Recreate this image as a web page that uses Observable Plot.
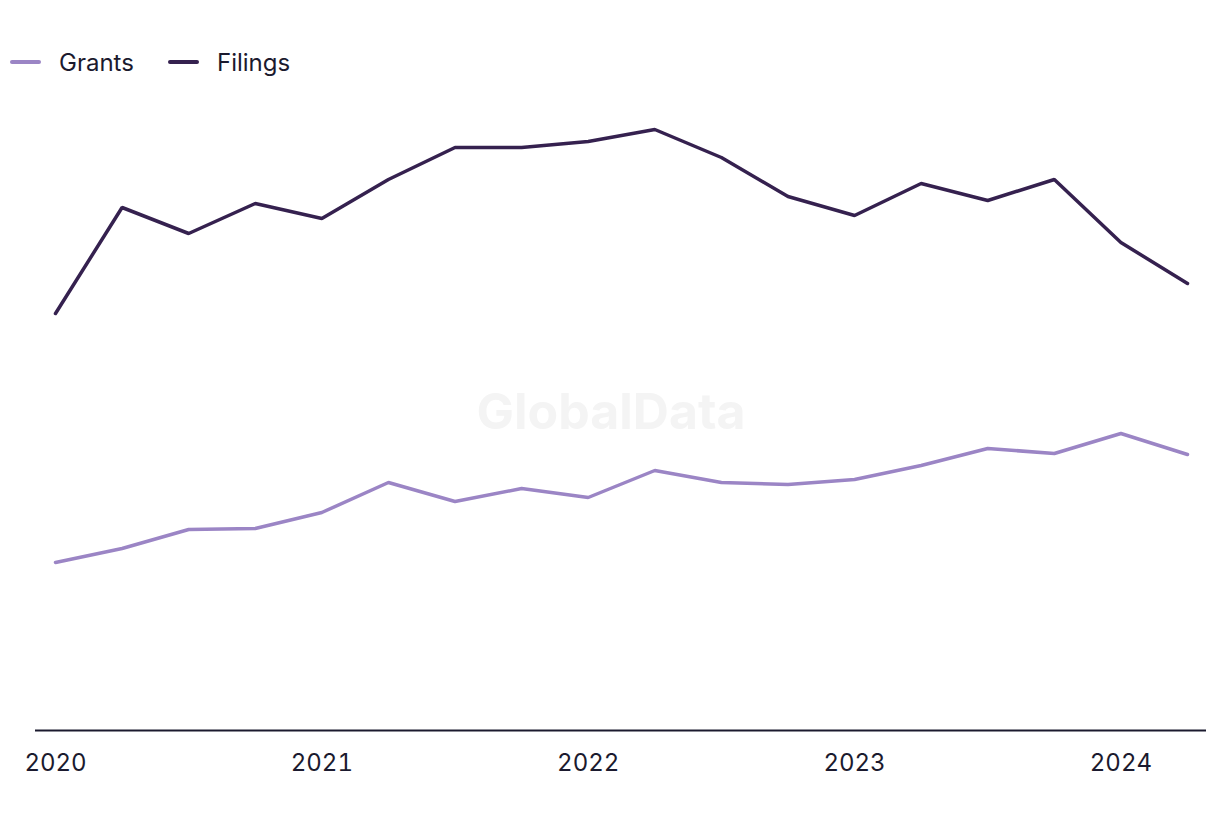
<!DOCTYPE html>
<html>
<head>
<meta charset="utf-8">
<script src="https://cdn.jsdelivr.net/npm/d3@7"></script>
<script src="https://cdn.jsdelivr.net/npm/@observablehq/plot@0.6"></script>
<style>
  html, body { margin: 0; padding: 0; background: #ffffff; }
  body { width: 1220px; height: 820px; overflow: hidden; font-family: Inter, "Noto Sans", sans-serif; color: #1b1a2e; }
  #legend { height: 90px; position: relative; font-size: 24px; }
  .item { position: absolute; top: 47px; display: flex; align-items: center; height: 30px; }
  .sw { width: 31px; height: 3.5px; border-radius: 2px; margin-right: 18px; }
  #chart svg { display: block; }
</style>
</head>
<body>
<div id="legend"></div>
<div id="chart"></div>
<script>
const periods = ["2020-Q1","2020-Q2","2020-Q3","2020-Q4","2021-Q1","2021-Q2","2021-Q3","2021-Q4","2022-Q1","2022-Q2","2022-Q3","2022-Q4","2023-Q1","2023-Q2","2023-Q3","2023-Q4","2024-Q1","2024-Q2"];
const grants  = [168, 182, 201, 202, 218, 248, 229, 242, 233, 260, 248, 246, 251, 265, 282, 277, 297, 276];
const filings = [417, 523, 497, 527, 512, 551, 583, 583, 589, 601, 573, 534, 515, 547, 530, 551, 488, 447];
const yearTicks = [2020, 2021, 2022, 2023, 2024];
const seriesNames = ["Grants", "Filings"];
const seriesColors = ["#9b85c5", "#35214f"];

const toYear = p => +p.slice(0, 4) + (+p.slice(6) - 1) / 4;
const rows = [];
periods.forEach((p, i) => {
  rows.push({t: toYear(p), series: "Grants", value: grants[i]});
  rows.push({t: toYear(p), series: "Filings", value: filings[i]});
});

// legend
const legend = document.getElementById("legend");
const lefts = [10, 168];
seriesNames.forEach((s, i) => {
  const d = document.createElement("div");
  d.className = "item";
  d.style.left = lefts[i] + "px";
  d.innerHTML = `<span class="sw" style="background:${seriesColors[i]}"></span><span>${s}</span>`;
  legend.appendChild(d);
});

const chart = Plot.plot({
  width: 1220,
  height: 730,
  marginTop: 10,
  marginBottom: 90,
  marginLeft: 35,
  marginRight: 14,
  insetLeft: 20,
  insetRight: 19,
  style: {fontFamily: "Inter, 'Noto Sans', sans-serif", fontSize: "24px", color: "#1b1a2e", background: "#ffffff"},
  x: {domain: [2020, 2024.25], label: null},
  y: {domain: [0, 630], axis: null},
  color: {domain: seriesNames, range: seriesColors},
  marks: [
    Plot.text(["GlobalData"], {frameAnchor: "middle", dx: -10, dy: -3, fontSize: 50, fontWeight: "bold", fill: "#f4f4f4"}),
    Plot.axisX({ticks: yearTicks, tickSize: 0, tickPadding: 23, tickFormat: d => String(d), fontSize: 24, label: null}),
    Plot.ruleY([0], {stroke: "#1b1a2e", strokeWidth: 2}),
    Plot.line(rows, {x: "t", y: "value", z: "series", stroke: "series", strokeWidth: 3.5, strokeLinejoin: "miter"})
  ]
});
document.getElementById("chart").appendChild(chart);
</script>
</body>
</html>
